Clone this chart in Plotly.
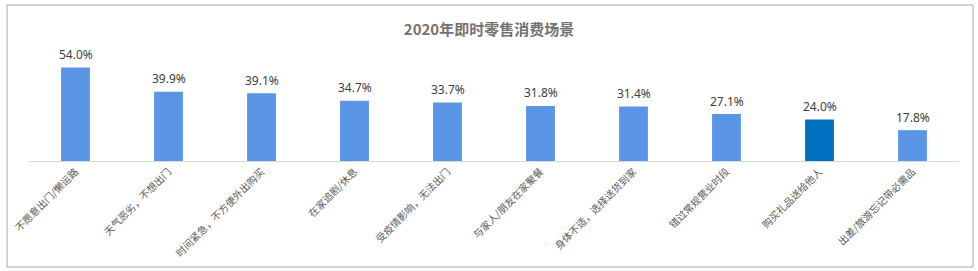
import plotly.graph_objects as go

categories = ["不愿意出门/懒运路", "天气恶劣，不想出门", "时间紧急，不方便外出购买", "在家追剧/休息",
              "受疫情影响，无法出门", "与家人/朋友在家聚餐", "身体不适，选择送货到家", "错过常规营业时段",
              "购买礼品送给他人", "出差/旅游忘记带必需品"]
values = [54.0, 39.9, 39.1, 34.7, 33.7, 31.8, 31.4, 27.1, 24.0, 17.8]
highlight = "购买礼品送给他人"

colors = ["#0070C0" if c == highlight else "#5B95E5" for c in categories]
font_family = "Noto Sans CJK SC, Microsoft YaHei, sans-serif"

fig = go.Figure(go.Bar(
    x=categories, y=values, marker_color=colors, marker_line_width=0,
))

for c, v in zip(categories, values):
    fig.add_annotation(x=c, y=v, text=f"{v:.1f}%", showarrow=False, yanchor="middle", yshift=13,
                       font=dict(size=12, color="#404040", family="Noto Sans, sans-serif"))

fig.update_layout(
    width=978, height=271,
    margin=dict(l=29, r=19, t=57, b=110),
    paper_bgcolor="white", plot_bgcolor="white",
    bargap=0.69,
    showlegend=False,
    title=dict(text="<b>2020年即时零售消费场景</b>", x=0.5, xanchor="center", y=0.89, yanchor="middle",
               font=dict(size=15, color="#767171", family=font_family)),
    xaxis=dict(tickangle=-45, tickfont=dict(size=10, color="#595959", family=font_family),
               showline=True, linecolor="#D9D9D9", linewidth=1, ticks="", showgrid=False),
    yaxis=dict(range=[0, 60], visible=False, showgrid=False),
    shapes=[dict(type="rect", xref="paper", yref="paper",
                 x0=-22/930, x1=(973-29)/930, y0=-(267-161)/104, y1=(161-5)/104,
                 line=dict(color="#A6A6A6", width=1), fillcolor="rgba(0,0,0,0)", layer="below")],
)

fig.write_html("out.html")
